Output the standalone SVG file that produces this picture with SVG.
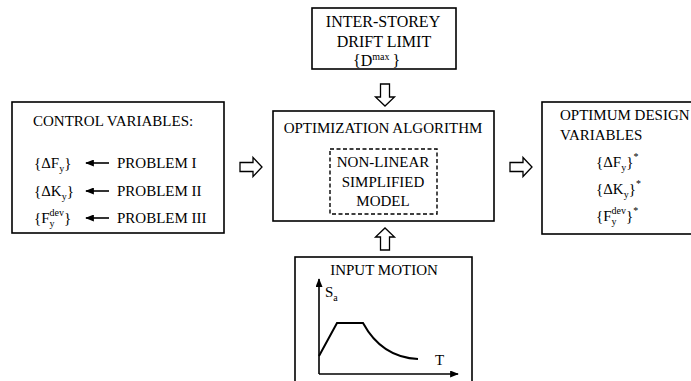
<svg xmlns="http://www.w3.org/2000/svg" width="691" height="381" viewBox="0 0 691 381">
  <style>
    .box { fill: #fff; stroke: #000; stroke-width: 1.6; }
    .dash { fill: none; stroke: #000; stroke-width: 1.4; stroke-dasharray: 4 2.5; }
    .hollow { fill: #fff; stroke: #000; stroke-width: 1.3; stroke-linejoin: miter; }
    text { font-family: "Liberation Serif", "Times New Roman", serif; font-size: 15px; fill: #000; }
    .big { font-size: 16px; }
    .mid { text-anchor: middle; }
    .s { font-size: 10px; }
    .wire { stroke: #000; stroke-width: 1.6; fill: none; }
    .curve { stroke: #000; stroke-width: 2; fill: none; }
  </style>
  <defs>
    <!-- hollow block arrow pointing to +x, origin at tail centre -->
    <path id="blockArrow" d="M0,-4.5 H13 V-9.5 L22,0 L13,9.5 V4.5 H0 Z"/>
    <marker id="head" viewBox="0 0 10 8" refX="9" refY="4" markerWidth="9" markerHeight="7" markerUnits="userSpaceOnUse" orient="auto">
      <path d="M0,0 L10,4 L0,8 Z" fill="#000"/>
    </marker>
  </defs>
  <rect width="691" height="381" fill="#fff"/>

  <!-- control variables -->
  <g id="control">
    <rect class="box" x="12" y="102" width="212" height="131"/>
    <text x="33" y="126">CONTROL VARIABLES:</text>
    <text x="34" y="168">{ΔF<tspan class="s" dy="4">y</tspan><tspan dy="-4">}</tspan></text>
    <text x="34" y="196">{ΔK<tspan class="s" dy="4">y</tspan><tspan dy="-4">}</tspan></text>
    <text x="34" y="223">{F<tspan class="s" dy="4">y</tspan><tspan class="s" dx="-5" dy="-11">dev</tspan><tspan dy="7">}</tspan></text>
    <text x="117" y="168">PROBLEM I</text>
    <text x="117" y="196">PROBLEM II</text>
    <text x="117" y="223">PROBLEM III</text>
  </g>

  <!-- drift limit -->
  <g id="drift">
    <rect class="box" x="312" y="8" width="144" height="61"/>
    <text class="mid big" x="383" y="27">INTER-STOREY</text>
    <text class="mid big" x="384" y="47">DRIFT LIMIT</text>
    <text class="big" x="353" y="66">{D<tspan class="s" dy="-6">max</tspan><tspan dx="3" dy="6">}</tspan></text>
  </g>

  <!-- optimization algorithm with inner model -->
  <g id="optimization">
    <rect class="box" x="273" y="111" width="221" height="110"/>
    <text class="mid" x="383" y="133">OPTIMIZATION ALGORITHM</text>
  </g>
  <g id="model">
    <rect class="dash" x="330" y="149" width="107" height="65"/>
    <text class="mid" x="383" y="167">NON-LINEAR</text>
    <text class="mid" x="383" y="187">SIMPLIFIED</text>
    <text class="mid" x="383" y="206">MODEL</text>
  </g>

  <!-- optimum design variables -->
  <g id="optimum">
    <rect class="box" x="542" y="102" width="160" height="132"/>
    <text x="560" y="120">OPTIMUM DESIGN</text>
    <text x="560" y="140">VARIABLES</text>
    <text x="596" y="167">{ΔF<tspan class="s" dy="4">y</tspan><tspan dy="-4">}</tspan><tspan class="s" dy="-7">*</tspan></text>
    <text x="596" y="194">{ΔK<tspan class="s" dy="4">y</tspan><tspan dy="-4">}</tspan><tspan class="s" dy="-7">*</tspan></text>
    <text x="596" y="221">{F<tspan class="s" dy="4">y</tspan><tspan class="s" dx="-5" dy="-11">dev</tspan><tspan dy="7">}</tspan><tspan class="s" dy="-7">*</tspan></text>
  </g>

  <!-- input motion spectrum -->
  <g id="input">
    <rect class="box" x="295" y="257" width="177" height="140"/>
    <text class="mid" x="384" y="275">INPUT MOTION</text>
    <line class="wire" x1="319" y1="374" x2="319" y2="279" marker-end="url(#head)"/>
    <line class="wire" x1="319" y1="374" x2="458" y2="374" marker-end="url(#head)"/>
    <text x="325" y="297">S<tspan class="s" dy="4">a</tspan></text>
    <text x="435" y="365">T</text>
    <path class="curve" d="M319,356 L337,323 H363 C375,345 393,358 418,359"/>
  </g>

  <g id="connectors">
    <line class="wire" x1="109" y1="163" x2="86" y2="163" marker-end="url(#head)"/>
    <line class="wire" x1="109" y1="191" x2="86" y2="191" marker-end="url(#head)"/>
    <line class="wire" x1="109" y1="218" x2="86" y2="218" marker-end="url(#head)"/>
    <use href="#blockArrow" class="hollow" transform="translate(240,167)"/>
    <use href="#blockArrow" class="hollow" transform="translate(510,167)"/>
    <use href="#blockArrow" class="hollow" transform="translate(385,84) rotate(90)"/>
    <use href="#blockArrow" class="hollow" transform="translate(385,250) rotate(-90)"/>
  </g>
</svg>
